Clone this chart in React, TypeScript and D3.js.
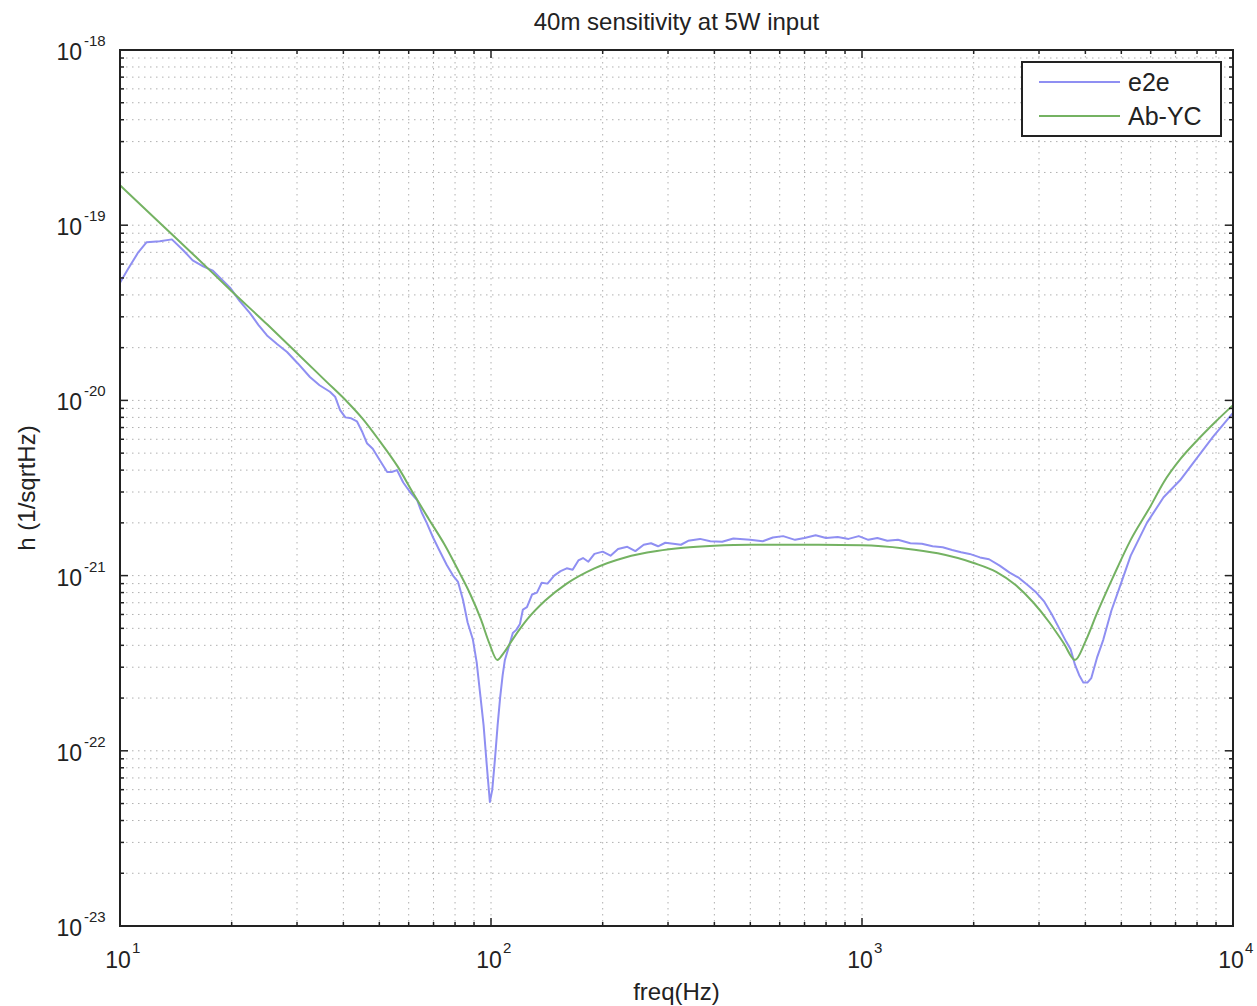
import React from "react";
import * as d3 from "d3";

// Ab-YC model curve (Hz, 1/sqrtHz)
const abFreq = [10, 13, 16, 20, 25, 30.5, 36, 41, 45, 50, 56, 62, 68, 75, 82, 88, 94, 99, 104, 108, 115, 125, 140, 160, 190, 230, 280, 330, 400, 500, 700, 1000, 1300, 1600, 2000, 2300, 2600, 2900, 3200, 3500, 3750, 4000, 4300, 4750, 5300, 6000, 6500, 7200, 8000, 9000, 10000];
const abH = [1.69e-19, 1.0e-19, 6.6e-20, 4.2e-20, 2.7e-20, 1.8e-20, 1.28e-20, 9.8e-21, 7.9e-21, 5.9e-21, 4.2e-21, 2.9e-21, 2.1e-21, 1.5e-21, 1.05e-21, 7.8e-22, 5.6e-22, 4.1e-22, 3.3e-22, 3.6e-22, 4.4e-22, 5.6e-22, 7.2e-22, 9.0e-22, 1.1e-21, 1.27e-21, 1.38e-21, 1.44e-21, 1.48e-21, 1.5e-21, 1.5e-21, 1.49e-21, 1.43e-21, 1.34e-21, 1.18e-21, 1.05e-21, 8.8e-22, 7.0e-22, 5.4e-22, 4.1e-22, 3.3e-22, 4.2e-22, 6.1e-22, 9.8e-22, 1.6e-21, 2.5e-21, 3.4e-21, 4.6e-21, 5.9e-21, 7.6e-21, 9.4e-21];

// e2e simulation
const e2eFreq = [10, 10.5, 11.2, 11.8, 12.8, 13.8, 14.8, 15.7, 16.8, 17.8, 18.8, 19.8, 21, 22.4, 23.6, 24.9, 26.5, 28.2, 30.2, 32.5, 34.5, 36.8, 38, 39.2, 40.5, 42, 43.5, 45, 46.3, 48, 50, 52.5, 54, 55.8, 58, 60.5, 63.2, 65, 67.1, 69.8, 72.5, 76, 79, 81.5, 84, 86.5, 89.4, 91.5, 93.3, 95.5, 97.4, 99.3, 100.8, 102.5, 104.2, 105.8, 107.5, 109, 112, 114.5, 117, 119.7, 121.9, 125, 129, 133, 137, 142, 148, 154, 160, 166, 172, 177, 183, 190, 200, 210, 220, 233, 245, 258, 270, 282, 295, 310, 325, 340, 366, 390, 420, 450, 499, 540, 575, 613, 660, 700, 750, 800, 860, 920, 980, 1040, 1100, 1170, 1250, 1350, 1450, 1550, 1650, 1750, 1850, 1950, 2080, 2200, 2350, 2500, 2650, 2800, 2950, 3100, 3250, 3400, 3550, 3650, 3750, 3850, 3950, 4050, 4150, 4300, 4470, 4700, 4950, 5300, 5860, 6500, 7200, 8000, 8830, 10000];
const e2eH = [4.7e-20, 5.6e-20, 7.0e-20, 8.0e-20, 8.1e-20, 8.3e-20, 7.2e-20, 6.3e-20, 5.8e-20, 5.5e-20, 4.9e-20, 4.4e-20, 3.7e-20, 3.15e-20, 2.7e-20, 2.35e-20, 2.1e-20, 1.89e-20, 1.62e-20, 1.36e-20, 1.22e-20, 1.12e-20, 1.05e-20, 8.8e-21, 8.0e-21, 7.9e-21, 7.6e-21, 6.6e-21, 5.7e-21, 5.3e-21, 4.6e-21, 3.9e-21, 3.9e-21, 4.0e-21, 3.4e-21, 3.0e-21, 2.7e-21, 2.3e-21, 2.0e-21, 1.65e-21, 1.4e-21, 1.15e-21, 1.0e-21, 9.2e-22, 7.3e-22, 5.4e-22, 4.3e-22, 3.2e-22, 2.2e-22, 1.4e-22, 8.3e-23, 5.1e-23, 6.0e-23, 9.0e-23, 1.4e-22, 2.0e-22, 2.7e-22, 3.3e-22, 4.0e-22, 4.7e-22, 4.9e-22, 5.3e-22, 6.4e-22, 6.6e-22, 7.8e-22, 8.0e-22, 9.1e-22, 9.0e-22, 1.0e-21, 1.06e-21, 1.1e-21, 1.08e-21, 1.22e-21, 1.26e-21, 1.2e-21, 1.33e-21, 1.37e-21, 1.3e-21, 1.42e-21, 1.46e-21, 1.38e-21, 1.5e-21, 1.53e-21, 1.47e-21, 1.54e-21, 1.52e-21, 1.5e-21, 1.58e-21, 1.62e-21, 1.57e-21, 1.56e-21, 1.63e-21, 1.6e-21, 1.57e-21, 1.65e-21, 1.68e-21, 1.6e-21, 1.64e-21, 1.7e-21, 1.64e-21, 1.66e-21, 1.62e-21, 1.68e-21, 1.6e-21, 1.64e-21, 1.58e-21, 1.6e-21, 1.53e-21, 1.52e-21, 1.47e-21, 1.45e-21, 1.4e-21, 1.36e-21, 1.33e-21, 1.27e-21, 1.24e-21, 1.14e-21, 1.04e-21, 9.7e-22, 8.8e-22, 8.0e-22, 7.1e-22, 6.0e-22, 5.0e-22, 4.2e-22, 3.8e-22, 3.1e-22, 2.7e-22, 2.45e-22, 2.45e-22, 2.6e-22, 3.4e-22, 4.3e-22, 6.3e-22, 8.6e-22, 1.3e-21, 2.0e-21, 2.8e-21, 3.5e-21, 4.7e-21, 6.2e-21, 8.5e-21];

const xMajor = [10, 100, 1000, 10000];
const xExp = ["1", "2", "3", "4"];
const yMajor = [1e-18, 1e-19, 1e-20, 1e-21, 1e-22, 1e-23];
const yExp = ["-18", "-19", "-20", "-21", "-22", "-23"];

const series = [
  { name: "e2e", freq: e2eFreq, h: e2eH, color: "#8f8ff2", smooth: false },
  { name: "Ab-YC", freq: abFreq, h: abH, color: "#74b262", smooth: true },
];

const FONT = "'Liberation Sans', Arial, Helvetica, sans-serif";

export default function App() {
  const W = 1257, H = 1006;
  const left = 120, right = 1233, top = 50, bottom = 926;

  const x = d3.scaleLog().domain([10, 1e4]).range([left, right]);
  const y = d3.scaleLog().domain([1e-23, 1e-18]).range([bottom, top]);

  const xTicks = x.ticks();
  const yTicks = y.ticks();
  const isMajor = (v: number) => Math.abs(Math.log10(v) - Math.round(Math.log10(v))) < 1e-6;

  const straight = d3.line<[number, number]>().x(d => x(d[0])).y(d => y(d[1]));
  const smooth = d3.line<[number, number]>().x(d => x(d[0])).y(d => y(d[1])).curve(d3.curveMonotoneX);

  return (
    <svg width={W} height={H} style={{ position: "absolute", left: 0, top: 0, background: "#fff" }} fontFamily={FONT}>
      <rect x={0} y={0} width={W} height={H} fill="#fff" />
      <text x={(left + right) / 2} y={30} textAnchor="middle" fontSize={24} fill="#222">40m sensitivity at 5W input</text>

      {/* grid */}
      <g stroke="#b0b0b0" strokeWidth={1} strokeDasharray="1.5,4.5">
        {xTicks.filter(t => t > 10 && t < 1e4).map((t, i) => (
          <line key={"gx" + i} x1={x(t)} x2={x(t)} y1={top} y2={bottom} />
        ))}
        {yTicks.filter(t => t > 1e-23 && t < 1e-18).map((t, i) => (
          <line key={"gy" + i} x1={left} x2={right} y1={y(t)} y2={y(t)} />
        ))}
      </g>

      {/* curves */}
      <g fill="none" strokeWidth={2} strokeLinejoin="round">
        {series.map(s => {
          const pts = s.freq.map((f, i) => [f, s.h[i]] as [number, number]);
          return <path key={s.name} d={(s.smooth ? smooth(pts) : straight(pts)) || ""} stroke={s.color} />;
        })}
      </g>

      {/* ticks on all sides */}
      <g stroke="#222" strokeWidth={1.5}>
        {xTicks.map((t, i) => {
          const len = isMajor(t) ? 8 : 4;
          return (
            <g key={"tx" + i}>
              <line x1={x(t)} x2={x(t)} y1={bottom} y2={bottom - len} />
              <line x1={x(t)} x2={x(t)} y1={top} y2={top + len} />
            </g>
          );
        })}
        {yTicks.map((t, i) => {
          const len = isMajor(t) ? 8 : 4;
          return (
            <g key={"ty" + i}>
              <line x1={left} x2={left + len} y1={y(t)} y2={y(t)} />
              <line x1={right} x2={right - len} y1={y(t)} y2={y(t)} />
            </g>
          );
        })}
      </g>

      <rect x={left} y={top} width={right - left} height={bottom - top} fill="none" stroke="#222" strokeWidth={2} />

      {/* tick labels */}
      <g fill="#222">
        {yMajor.map((v, i) => (
          <g key={"yl" + i}>
            <text x={82} y={y(v) + 10} textAnchor="end" fontSize={23}>10</text>
            <text x={84} y={y(v) - 4} fontSize={15}>{yExp[i]}</text>
          </g>
        ))}
        {xMajor.map((v, i) => (
          <g key={"xl" + i}>
            <text x={x(v) - 2} y={968} textAnchor="middle" fontSize={23}>10</text>
            <text x={x(v) + 12} y={953} fontSize={15}>{xExp[i]}</text>
          </g>
        ))}
      </g>

      <text x={(left + right) / 2} y={1000} textAnchor="middle" fontSize={24} fill="#222">freq(Hz)</text>
      <text transform={`translate(35,${(top + bottom) / 2}) rotate(-90)`} textAnchor="middle" fontSize={24} fill="#222">h (1/sqrtHz)</text>

      {/* legend */}
      <g>
        <rect x={1022} y={62} width={199} height={74} fill="#fff" stroke="#222" strokeWidth={2} />
        {series.map((s, i) => (
          <g key={"lg" + i}>
            <line x1={1039} x2={1120} y1={82 + i * 34} y2={82 + i * 34} stroke={s.color} strokeWidth={2} />
            <text x={1128} y={91 + i * 34} fontSize={25} fill="#222">{s.name}</text>
          </g>
        ))}
      </g>
    </svg>
  );
}
